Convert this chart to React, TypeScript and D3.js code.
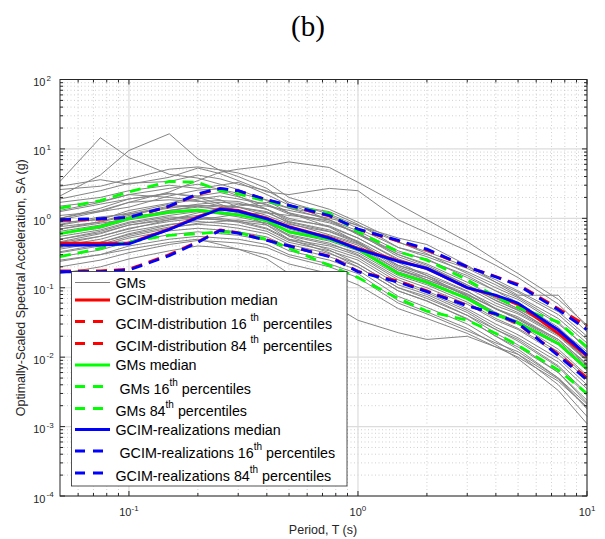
import React from 'react';
import * as d3 from 'd3';

// ---------- data ----------
const periods = [0.05, 0.075, 0.1, 0.15, 0.2, 0.25, 0.3, 0.4, 0.5, 0.75, 1, 1.5, 2, 3, 4, 5, 7.5, 10];

const gm01 = [3.4, 14.5, 7.5, 4.3, 3.8, 3.1, 2.6, 1.8, 1.2, 0.75, 0.45, 0.21, 0.15, 0.075, 0.042, 0.03, 0.013, 0.0055];
const gm02 = [2.1, 4.2, 9.5, 16.5, 7.2, 4.9, 4.0, 2.7, 1.6, 0.95, 0.58, 0.3, 0.21, 0.11, 0.065, 0.047, 0.021, 0.0092];
const gm03 = [1.0, 1.3, 1.7, 2.4, 3.5, 4.6, 5.1, 5.7, 6.5, 5.4, 3.3, 1.6, 0.95, 0.46, 0.25, 0.16, 0.068, 0.029];
const gm04 = [2.9, 3.6, 3.1, 3.9, 5.3, 4.4, 3.5, 2.4, 2.2, 2.7, 2.5, 0.95, 0.62, 0.34, 0.21, 0.14, 0.058, 0.023];
const gm05 = [2.6, 2.9, 3.7, 5.1, 5.5, 5.0, 4.5, 3.3, 2.0, 1.35, 0.88, 0.46, 0.31, 0.16, 0.1, 0.072, 0.032, 0.013];
const gm06 = [1.9, 2.5, 3.2, 3.4, 4.2, 3.7, 3.1, 2.5, 1.7, 1.15, 0.78, 0.52, 0.42, 0.21, 0.12, 0.078, 0.078, 0.027];
const gm07 = [1.7, 2.0, 2.5, 3.0, 2.7, 3.0, 3.3, 2.2, 1.55, 1.25, 0.82, 0.38, 0.3, 0.19, 0.12, 0.086, 0.041, 0.018];
const gm08 = [1.5, 1.75, 2.2, 2.7, 3.1, 2.6, 2.3, 1.85, 1.4, 0.95, 0.66, 0.34, 0.25, 0.15, 0.09, 0.061, 0.027, 0.011];
const gm09 = [1.25, 1.6, 1.9, 2.25, 2.1, 2.35, 2.05, 1.55, 1.15, 0.86, 0.62, 0.3, 0.22, 0.12, 0.072, 0.05, 0.024, 0.0098];
const gm10 = [1.1, 1.25, 1.45, 2.1, 2.55, 2.65, 2.1, 1.35, 0.95, 0.78, 0.52, 0.26, 0.19, 0.105, 0.066, 0.048, 0.021, 0.0094];
const gm11 = [0.95, 1.25, 1.7, 1.85, 1.75, 1.8, 1.75, 1.35, 0.9, 0.68, 0.47, 0.23, 0.15, 0.088, 0.055, 0.042, 0.02, 0.0088];
const gm12 = [0.88, 0.95, 1.3, 1.65, 2.05, 1.85, 1.45, 1.25, 0.85, 0.58, 0.43, 0.21, 0.16, 0.09, 0.05, 0.035, 0.016, 0.0072];
const gm13 = [0.82, 1.05, 1.15, 1.5, 1.55, 1.45, 1.45, 1.1, 0.82, 0.64, 0.44, 0.19, 0.13, 0.078, 0.05, 0.036, 0.017, 0.0075];
const gm14 = [0.76, 0.88, 1.1, 1.45, 1.5, 1.35, 1.3, 1.05, 0.72, 0.56, 0.41, 0.18, 0.14, 0.075, 0.044, 0.032, 0.016, 0.0068];
const gm15 = [0.7, 0.85, 0.98, 1.3, 1.45, 1.35, 1.2, 0.98, 0.7, 0.5, 0.37, 0.17, 0.125, 0.072, 0.043, 0.033, 0.0155, 0.0068];
const gm16 = [0.45, 0.55, 0.7, 0.95, 1.2, 1.4, 1.6, 1.5, 1.3, 1.0, 0.8, 0.45, 0.33, 0.2, 0.13, 0.09, 0.045, 0.02];
const gm17 = [0.5, 0.62, 0.8, 1.0, 1.1, 1.3, 1.5, 1.7, 1.4, 1.1, 0.72, 0.38, 0.28, 0.17, 0.11, 0.075, 0.036, 0.016];
const gm18 = [0.38, 0.45, 0.6, 0.8, 0.95, 1.05, 1.15, 1.2, 1.1, 0.95, 0.6, 0.32, 0.26, 0.14, 0.09, 0.068, 0.03, 0.014];
const gm19 = [1.3, 1.7, 2.2, 2.0, 1.8, 1.5, 1.3, 0.9, 0.55, 0.35, 0.22, 0.1, 0.075, 0.04, 0.025, 0.018, 0.0075, 0.003];
const gm20 = [1.0, 1.4, 1.9, 2.3, 2.0, 1.6, 1.25, 0.8, 0.5, 0.32, 0.2, 0.09, 0.065, 0.035, 0.02, 0.014, 0.006, 0.0024];
const gm21 = [0.65, 0.8, 1.05, 1.25, 1.35, 1.25, 1.15, 0.92, 0.66, 0.5, 0.36, 0.165, 0.12, 0.07, 0.041, 0.031, 0.0157, 0.0068];
const gm22 = [0.6, 0.72, 0.95, 1.18, 1.28, 1.2, 1.12, 0.9, 0.62, 0.47, 0.34, 0.16, 0.115, 0.068, 0.04, 0.03, 0.015, 0.0064];
const gm23 = [0.55, 0.68, 0.88, 1.1, 1.25, 1.15, 1.05, 0.85, 0.58, 0.44, 0.3, 0.14, 0.1, 0.058, 0.034, 0.025, 0.011, 0.0048];
const gm24 = [0.5, 0.65, 0.85, 1.05, 1.0, 0.95, 0.9, 0.8, 0.56, 0.42, 0.32, 0.15, 0.11, 0.062, 0.036, 0.026, 0.012, 0.0052];
const gm25 = [0.46, 0.6, 0.8, 0.95, 1.05, 1.0, 0.92, 0.72, 0.5, 0.4, 0.29, 0.13, 0.09, 0.05, 0.03, 0.021, 0.0095, 0.004];
const gm26 = [0.42, 0.55, 0.72, 0.9, 1.0, 0.95, 0.88, 0.7, 0.48, 0.37, 0.27, 0.12, 0.085, 0.047, 0.027, 0.019, 0.0085, 0.0035];
const gm27 = [0.4, 0.5, 0.65, 0.82, 0.9, 0.85, 0.8, 0.65, 0.45, 0.34, 0.25, 0.11, 0.08, 0.044, 0.025, 0.017, 0.0072, 0.0028];
const gm28 = [0.36, 0.45, 0.58, 0.75, 0.82, 0.78, 0.72, 0.6, 0.42, 0.31, 0.22, 0.1, 0.07, 0.04, 0.022, 0.015, 0.006, 0.0022];
const gm29 = [0.32, 0.4, 0.52, 0.66, 0.72, 0.68, 0.64, 0.54, 0.38, 0.28, 0.2, 0.09, 0.064, 0.036, 0.02, 0.013, 0.005, 0.0018];
const gm30 = [0.28, 0.35, 0.46, 0.58, 0.64, 0.6, 0.57, 0.48, 0.34, 0.25, 0.18, 0.075, 0.052, 0.03, 0.017, 0.011, 0.004, 0.0014];
const gm31 = [0.24, 0.3, 0.4, 0.5, 0.55, 0.52, 0.5, 0.42, 0.3, 0.22, 0.16, 0.065, 0.045, 0.026, 0.015, 0.0095, 0.0033, 0.0011];
const gm32 = [0.25, 0.3, 0.36, 0.45, 0.5, 0.42, 0.36, 0.26, 0.16, 0.06, 0.034, 0.0225, 0.018, 0.02, 0.014, 0.011, 0.0048, 0.0019];
const gm33 = [0.2, 0.25, 0.32, 0.42, 0.48, 0.46, 0.44, 0.38, 0.28, 0.2, 0.14, 0.06, 0.042, 0.024, 0.016, 0.012, 0.005, 0.0021];
const gm34 = [0.16, 0.2, 0.26, 0.34, 0.4, 0.38, 0.36, 0.3, 0.22, 0.16, 0.11, 0.05, 0.036, 0.022, 0.014, 0.01, 0.0045, 0.0019];
const gm35 = [0.8, 1.0, 1.2, 1.6, 1.9, 2.1, 1.9, 1.6, 1.2, 0.9, 0.6, 0.28, 0.2, 0.11, 0.07, 0.05, 0.026, 0.012];
const gm36 = [0.7, 0.9, 1.15, 1.4, 1.6, 1.7, 1.65, 1.35, 1.0, 0.75, 0.52, 0.25, 0.18, 0.1, 0.06, 0.044, 0.021, 0.009];
const gm37 = [0.6, 0.78, 1.0, 1.3, 1.5, 1.55, 1.45, 1.2, 0.88, 0.65, 0.46, 0.2, 0.14, 0.082, 0.049, 0.036, 0.018, 0.008];
const gm38 = [0.33, 0.42, 0.55, 0.72, 0.85, 0.9, 0.95, 0.85, 0.65, 0.5, 0.38, 0.18, 0.13, 0.08, 0.05, 0.038, 0.018, 0.0078];

const gmRecords = [gm01, gm02, gm03, gm04, gm05, gm06, gm07, gm08, gm09, gm10, gm11, gm12, gm13, gm14, gm15, gm16, gm17, gm18, gm19,
  gm20, gm21, gm22, gm23, gm24, gm25, gm26, gm27, gm28, gm29, gm30, gm31, gm32, gm33, gm34, gm35, gm36, gm37, gm38];

const gcimDistMedian = [0.44, 0.44, 0.44, 0.7, 1.05, 1.38, 1.3, 1.0, 0.76, 0.53, 0.37, 0.245, 0.19, 0.1, 0.077, 0.057, 0.022, 0.0103];
const gcimDist16 = [0.175, 0.175, 0.185, 0.3, 0.46, 0.68, 0.62, 0.49, 0.4, 0.285, 0.172, 0.125, 0.09, 0.056, 0.041, 0.03, 0.011, 0.005];
const gcimDist84 = [0.93, 0.97, 1.02, 1.48, 2.22, 2.68, 2.48, 1.84, 1.52, 1.08, 0.69, 0.47, 0.35, 0.2, 0.145, 0.112, 0.05, 0.028];
const gmsMedian = [0.6, 0.76, 1.0, 1.23, 1.31, 1.2, 1.12, 0.93, 0.64, 0.5, 0.36, 0.16, 0.12, 0.07, 0.041, 0.031, 0.0157, 0.0068];
const gms16 = [0.28, 0.37, 0.46, 0.57, 0.6, 0.64, 0.62, 0.5, 0.37, 0.21, 0.14, 0.07, 0.046, 0.034, 0.022, 0.0148, 0.0065, 0.003];
const gms84 = [1.4, 1.8, 2.4, 3.4, 3.3, 2.5, 2.25, 1.75, 1.5, 1.18, 0.64, 0.33, 0.25, 0.13, 0.074, 0.052, 0.032, 0.014];
const gcimRealMedian = [0.41, 0.41, 0.43, 0.69, 1.03, 1.36, 1.27, 0.98, 0.75, 0.52, 0.36, 0.24, 0.19, 0.1, 0.078, 0.06, 0.0245, 0.0107];
const gcimReal16 = [0.17, 0.17, 0.18, 0.29, 0.45, 0.67, 0.61, 0.48, 0.4, 0.28, 0.17, 0.12, 0.088, 0.055, 0.042, 0.031, 0.0105, 0.0047];
const gcimReal84 = [0.96, 0.99, 1.03, 1.5, 2.26, 2.7, 2.5, 1.85, 1.54, 1.1, 0.7, 0.48, 0.36, 0.2, 0.143, 0.109, 0.048, 0.025];

const xTickExps = [-1, 0, 1];
const yTickExps = [-4, -3, -2, -1, 0, 1, 2];

const titleText = '(b)';
const xLabel = 'Period, T (s)';
const yLabel = 'Optimally-Scaled Spectral Acceleration, SA (g)';

type Part = { t: string; sup?: boolean };
const legendEntries: { parts: Part[]; color: string; dashed: boolean; width: number }[] = [
  { parts: [{ t: 'GMs' }], color: '#808080', dashed: false, width: 1 },
  { parts: [{ t: 'GCIM-distribution median' }], color: '#ff0000', dashed: false, width: 2.8 },
  { parts: [{ t: 'GCIM-distribution 16 ' }, { t: 'th', sup: true }, { t: ' percentiles' }], color: '#ff0000', dashed: true, width: 2.8 },
  { parts: [{ t: 'GCIM-distribution 84 ' }, { t: 'th', sup: true }, { t: ' percentiles' }], color: '#ff0000', dashed: true, width: 2.8 },
  { parts: [{ t: 'GMs median' }], color: '#00ff00', dashed: false, width: 2.8 },
  { parts: [{ t: ' GMs 16' }, { t: 'th', sup: true }, { t: ' percentiles' }], color: '#00ff00', dashed: true, width: 2.8 },
  { parts: [{ t: 'GMs 84' }, { t: 'th', sup: true }, { t: ' percentiles' }], color: '#00ff00', dashed: true, width: 2.8 },
  { parts: [{ t: 'GCIM-realizations median' }], color: '#0000ff', dashed: false, width: 2.8 },
  { parts: [{ t: ' GCIM-realizations 16' }, { t: 'th', sup: true }, { t: ' percentiles' }], color: '#0000ff', dashed: true, width: 2.8 },
  { parts: [{ t: 'GCIM-realizations 84' }, { t: 'th', sup: true }, { t: ' percentiles' }], color: '#0000ff', dashed: true, width: 2.8 },
];

// ---------- layout ----------
const W = 605;
const H = 539;
const L = 60, R = 587, T = 79.5, B = 496;
const FONT = '"Liberation Sans", Arial, Helvetica, sans-serif';
const AX = '#262626';

export default function App() {
  const x = d3.scaleLog().domain([0.05, 10]).range([L, R]);
  const y = d3.scaleLog().domain([1e-4, 1e2]).range([B, T]);
  const line = d3.line<number>().x((_, i) => x(periods[i])).y((d) => y(d));

  const xMinor: number[] = [];
  for (let e = -2; e <= 0; e++) for (let m = 2; m <= 9; m++) {
    const v = m * Math.pow(10, e);
    if (v > 0.05 + 1e-9 && v < 10) xMinor.push(v);
  }
  const yMinor: number[] = [];
  for (let e = -4; e <= 1; e++) for (let m = 2; m <= 9; m++) yMinor.push(m * Math.pow(10, e));
  const xMajor = xTickExps.map((e) => Math.pow(10, e));
  const yMajor = yTickExps.map((e) => Math.pow(10, e));

  const dash = '11,7';
  const series = [
    { d: gcimDistMedian, c: '#ff0000', dash: false },
    { d: gcimDist16, c: '#ff0000', dash: true },
    { d: gcimDist84, c: '#ff0000', dash: true },
    { d: gmsMedian, c: '#00ff00', dash: false },
    { d: gms16, c: '#00ff00', dash: true },
    { d: gms84, c: '#00ff00', dash: true },
    { d: gcimRealMedian, c: '#0000ff', dash: false },
    { d: gcimReal16, c: '#0000ff', dash: true },
    { d: gcimReal84, c: '#0000ff', dash: true },
  ];

  const legX = 71.5, legY = 271.5, legW = 275.5, legH = 214.5;
  const rowLineY = [282.5, 300, 321.5, 343.5, 365, 386.5, 408.5, 429.5, 451, 473];
  const rowTextY = [287.5, 305, 329, 351, 370, 393.5, 416, 434.5, 458, 480.5];

  return (
    <svg width={W} height={H} style={{ position: 'absolute', left: 0, top: 0, background: '#fff' }} fontFamily={FONT}>
      <rect x={0} y={0} width={W} height={H} fill="#fff" />
      <text x={308} y={36} fontFamily='"Liberation Serif", "Times New Roman", serif' fontSize={29} textAnchor="middle" fill="#000">{titleText}</text>

      {/* grid */}
      <g>
        {xMinor.map((v) => (
          <line key={'xm' + v} x1={x(v)} x2={x(v)} y1={T} y2={B} stroke="#c4c4c4" strokeWidth={0.8} strokeDasharray="1,2.5" />
        ))}
        {yMinor.map((v) => (
          <line key={'ym' + v} x1={L} x2={R} y1={y(v)} y2={y(v)} stroke="#c4c4c4" strokeWidth={0.8} strokeDasharray="1,2.5" />
        ))}
        {xMajor.map((v) => (
          <line key={'xM' + v} x1={x(v)} x2={x(v)} y1={T} y2={B} stroke="#dcdcdc" strokeWidth={1.2} />
        ))}
        {yMajor.map((v) => (
          <line key={'yM' + v} x1={L} x2={R} y1={y(v)} y2={y(v)} stroke="#dcdcdc" strokeWidth={1.2} />
        ))}
      </g>

      {/* ground motions */}
      <g fill="none" stroke="#858585" strokeWidth={1} strokeLinejoin="round">
        {gmRecords.map((d, i) => (
          <path key={'gm' + i} d={line(d) || ''} />
        ))}
      </g>

      {/* statistics */}
      <g fill="none" strokeWidth={2.8}>
        {series.map((s, i) => (
          <path key={'s' + i} d={line(s.d) || ''} stroke={s.c} strokeDasharray={s.dash ? dash : undefined} />
        ))}
      </g>

      {/* axes box and ticks */}
      <rect x={L} y={T} width={R - L} height={B - T} fill="none" stroke={AX} strokeWidth={1} />
      <g stroke={AX} strokeWidth={1}>
        {xMajor.map((v) => (
          <g key={'xt' + v}>
            <line x1={x(v)} x2={x(v)} y1={B} y2={B - 5} />
            <line x1={x(v)} x2={x(v)} y1={T} y2={T + 5} />
          </g>
        ))}
        {xMinor.map((v) => (
          <g key={'xmt' + v}>
            <line x1={x(v)} x2={x(v)} y1={B} y2={B - 3} />
            <line x1={x(v)} x2={x(v)} y1={T} y2={T + 3} />
          </g>
        ))}
        {yMajor.map((v) => (
          <g key={'yt' + v}>
            <line x1={L} x2={L + 5} y1={y(v)} y2={y(v)} />
            <line x1={R} x2={R - 5} y1={y(v)} y2={y(v)} />
          </g>
        ))}
        {yMinor.map((v) => (
          <g key={'ymt' + v}>
            <line x1={L} x2={L + 3} y1={y(v)} y2={y(v)} />
            <line x1={R} x2={R - 3} y1={y(v)} y2={y(v)} />
          </g>
        ))}
      </g>

      {/* tick labels */}
      <g fill={AX}>
        {yTickExps.map((e) => {
          const yy = y(Math.pow(10, e));
          return (
            <g key={'yl' + e}>
              <text x={45.5} y={yy + 6.5} fontSize={11} textAnchor="end">10</text>
              <text x={46.5} y={yy + 1} fontSize={8} textAnchor="start">{String(e)}</text>
            </g>
          );
        })}
        {xTickExps.map((e) => {
          const xx = x(Math.pow(10, e));
          return (
            <text key={'xl' + e} x={xx} y={516} fontSize={11} textAnchor="middle">
              10<tspan fontSize={8} dy={-5.5}>{String(e)}</tspan>
            </text>
          );
        })}
      </g>

      {/* axis labels */}
      <text x={323} y={534} fontSize={12.5} textAnchor="middle" fill={AX}>{xLabel}</text>
      <text transform={`translate(24.5, ${(T + B) / 2}) rotate(-90)`} fontSize={12.5} textAnchor="middle" fill={AX}>{yLabel}</text>

      {/* legend */}
      <rect x={legX} y={legY} width={legW} height={legH} fill="#fff" stroke={AX} strokeWidth={0.8} />
      {legendEntries.map((en, i) => (
        <g key={'lg' + i}>
          <line x1={75} x2={110} y1={rowLineY[i]} y2={rowLineY[i]} stroke={en.color} strokeWidth={en.width}
            strokeDasharray={en.dashed ? '10,8' : undefined} />
          <text x={115.5} y={rowTextY[i]} fontSize={14.3} fill="#000" style={{ whiteSpace: 'pre' }}>
            {en.parts.map((p, j) => {
              const prevSup = j > 0 && en.parts[j - 1].sup;
              return (
                <tspan key={j} fontSize={p.sup ? 10 : 14.3} dy={p.sup ? -8 : prevSup ? 8 : 0}>{p.t}</tspan>
              );
            })}
          </text>
        </g>
      ))}
    </svg>
  );
}
